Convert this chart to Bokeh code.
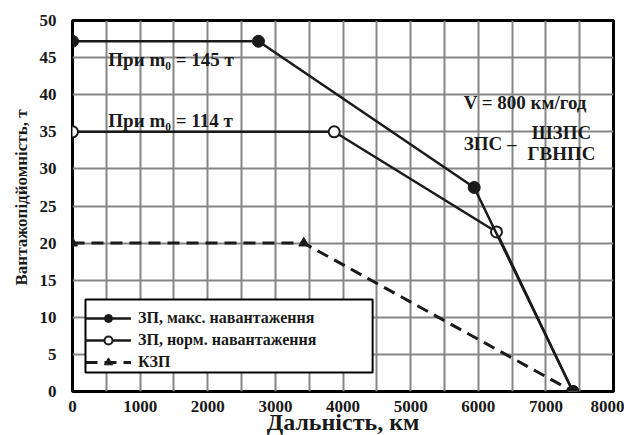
from bokeh.plotting import figure
from bokeh.models import (FixedTicker, Label, Legend, LegendItem, Range1d, Title, BoxAnnotation)
from bokeh.embed import file_html
from bokeh.resources import INLINE

# ---- data ----
max_x = [0, 2750, 5940, 7400]
max_y = [47.2, 47.2, 27.5, 0]
norm_x = [0, 3870, 6270, 7400]
norm_y = [35, 35, 21.5, 0]
kzp_x = [0, 3420, 7400]
kzp_y = [20, 20, 0]
x_ticks = list(range(0, 8001, 1000))
y_ticks = list(range(0, 51, 5))
legend_labels = ["ЗП, макс. навантаження", "ЗП, норм. навантаження", "КЗП"]

FONT = "Liberation Serif"
INK = "#1a1a1a"

p = figure(frame_width=541, frame_height=371, output_backend="svg", toolbar_location=None,
           x_range=Range1d(0, 8000), y_range=Range1d(0, 50),
           min_border_left=72, min_border_right=11, min_border_top=20, min_border_bottom=30)

p.outline_line_color = "black"
p.outline_line_width = 3
p.outline_line_alpha = 1

for ax in (p.xaxis[0], p.yaxis[0]):
    ax.axis_line_color = None
    ax.major_tick_line_color = None
    ax.minor_tick_line_color = None
    ax.major_label_text_font = FONT
    ax.major_label_text_font_style = "bold"
    ax.major_label_text_font_size = "17px"
    ax.major_label_text_color = INK
    ax.axis_label_text_font = FONT
    ax.axis_label_text_font_style = "bold"
    ax.axis_label_text_color = INK

p.xaxis.ticker = FixedTicker(ticks=x_ticks)
p.yaxis.ticker = FixedTicker(ticks=y_ticks)
p.xaxis.major_label_standoff = 3
p.yaxis.major_label_standoff = 10
p.xaxis.axis_label = "Дальність, км"
p.xaxis.axis_label_text_font_size = "24px"
p.xaxis.axis_label_standoff = -6

# y-axis title as a side title so it can sit above centre, as in the original
ytitle = Title(text="Вантажопідйомність, т", align="left", offset=106,
               text_font=FONT, text_font_style="bold", text_font_size="17px",
               text_color=INK, standoff=11)
p.add_layout(ytitle, "left")

p.xgrid.ticker = FixedTicker(ticks=list(range(0, 8001, 500)))
p.ygrid.ticker = FixedTicker(ticks=y_ticks)
for g in (p.xgrid[0], p.ygrid[0]):
    g.grid_line_color = "#858585"
    g.grid_line_width = 2
    g.grid_line_alpha = 1

# series
l_kzp = p.line(kzp_x, kzp_y, line_color=INK, line_width=3, line_dash="12 7")
m_kzp = p.scatter(kzp_x[:-1], kzp_y[:-1], marker="triangle", size=10,
                  fill_color=INK, line_color=INK)
l_norm = p.line(norm_x, norm_y, line_color=INK, line_width=2.5)
m_norm = p.scatter(norm_x, norm_y, marker="circle", size=11,
                   fill_color="white", line_color=INK, line_width=2)
l_max = p.line(max_x, max_y, line_color=INK, line_width=2.5)
m_max = p.scatter(max_x, max_y, marker="circle", size=12,
                  fill_color=INK, line_color=INK)

# legend frame (wider than the entries, as in the original)
p.add_layout(BoxAnnotation(left=192, right=4438, bottom=2.56, top=12.4,
                           fill_color="white", fill_alpha=1,
                           line_color="black", line_width=2, line_alpha=1))

legend = Legend(items=[
    LegendItem(label=legend_labels[0], renderers=[l_max, m_max]),
    LegendItem(label=legend_labels[1], renderers=[l_norm, m_norm]),
    LegendItem(label=legend_labels[2], renderers=[l_kzp, m_kzp]),
], location=(13, 19))
legend.label_text_font = FONT
legend.label_text_font_style = "bold"
legend.label_text_font_size = "16px"
legend.label_text_color = INK
legend.glyph_width = 46
legend.glyph_height = 20
legend.label_height = 20
legend.label_standoff = 7
legend.spacing = 2
legend.padding = 6
legend.margin = 0
legend.border_line_color = None
legend.background_fill_alpha = 0
p.add_layout(legend, "center")

def lab(x, y, t, size="19px", align="left"):
    p.add_layout(Label(x=x, y=y, text=t, text_font=FONT, text_font_style="bold",
                       text_font_size=size, text_color=INK,
                       text_align=align, text_baseline="middle"))

lab(530, 44.8, "При m₀ = 145 т")
lab(530, 36.5, "При m₀ = 114 т")
lab(5784, 38.9, "V = 800 км/год")
lab(5784, 33.4, "ЗПС –")
lab(7230, 34.9, "ШЗПС", align="center")
lab(7230, 32.1, "ГВНПС", align="center")

open("out.html", "w").write(file_html(p, INLINE))
